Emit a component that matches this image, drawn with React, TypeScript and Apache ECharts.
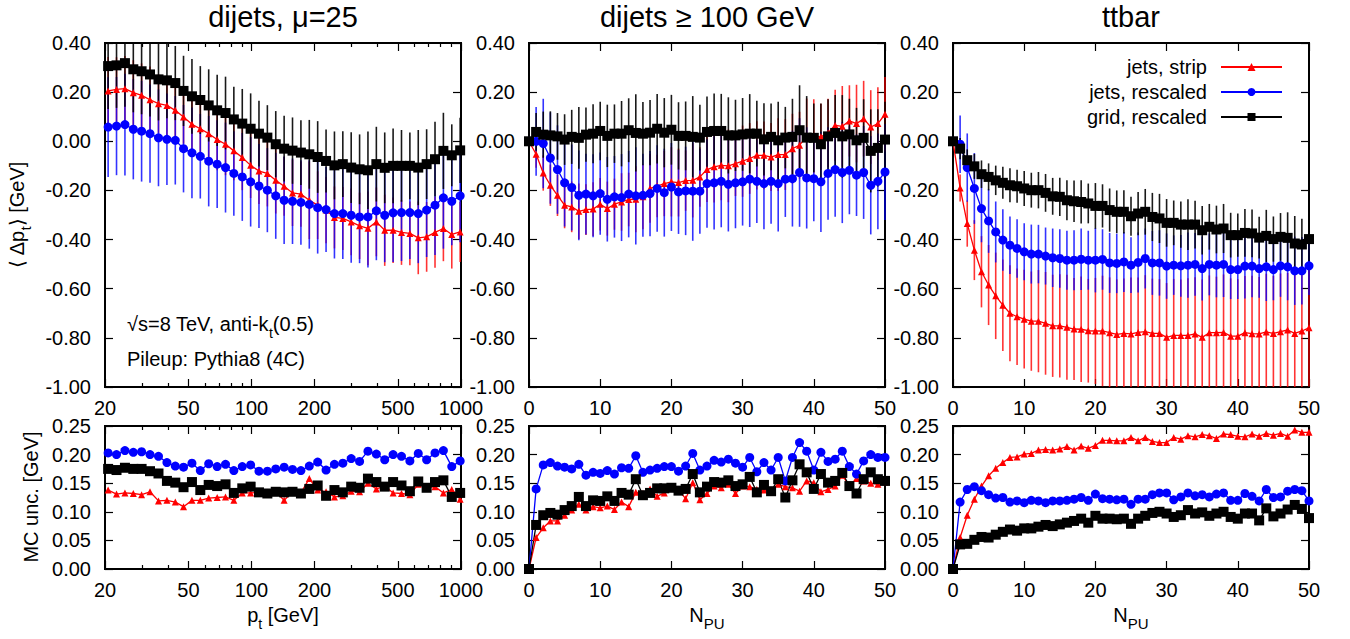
import React, { useEffect, useRef } from 'react';
import * as echarts from 'echarts';

const FONT = '"Liberation Sans", Arial, Helvetica, sans-serif';

const SERIES_NAMES = ['jets, strip', 'jets, rescaled', 'grid, rescaled'];
const COLORS = ['#ff0000', '#0000ff', '#000000'];
const ERR_COLORS = ['rgba(255,0,0,0.8)', 'rgba(0,0,255,0.8)', 'rgba(0,0,0,0.9)'];
const SYMBOLS = ['triangle', 'circle', 'rect'];
const SYMBOL_SIZES = [7, 9, 10];

const PANEL_TITLES = ['dijets, μ=25', 'dijets ≥ 100 GeV', 'ttbar'];

// x values
const PT = [20.7, 22.7, 24.9, 27.3, 29.9, 32.8, 36.0, 39.5, 43.3, 47.4, 52.0, 57.0, 62.5, 68.6, 75.2,
  82.4, 90.4, 99.1, 108.6, 119.1, 130.6, 143.2, 157.0, 172.2, 188.8, 207.0, 227.0, 248.9, 272.9, 299.2,
  328.1, 359.7, 394.5, 432.5, 474.2, 520.0, 570.2, 625.2, 685.5, 751.6, 824.1, 903.6, 990.8];
const NPU = [0, 1, 2, 3, 4, 5, 6, 7, 8, 9, 10, 11, 12, 13, 14, 15, 16, 17, 18, 19, 20, 21, 22, 23, 24, 25,
  26, 27, 28, 29, 30, 31, 32, 33, 34, 35, 36, 37, 38, 39, 40, 41, 42, 43, 44, 45, 46, 47, 48, 49, 50];

const PT_MAJOR_TICKS = [20, 50, 100, 200, 500, 1000];
const PT_MINOR_TICKS = [30, 40, 60, 70, 80, 90, 300, 400, 600, 700, 800, 900];

// Panel 1: dijets mu=25, vs pt
const P1_STRIP = [0.205, 0.211, 0.214, 0.198, 0.187, 0.169, 0.153, 0.146, 0.126, 0.099, 0.069, 0.051, 0.031, 0.007, -0.012,
  -0.039, -0.066, -0.098, -0.121, -0.131, -0.159, -0.183, -0.210, -0.215, -0.240, -0.260, -0.280, -0.310, -0.314, -0.328,
  -0.344, -0.354, -0.328, -0.362, -0.362, -0.371, -0.375, -0.393, -0.389, -0.371, -0.355, -0.379, -0.369];
const P1_JETS = [0.058, 0.062, 0.068, 0.049, 0.041, 0.031, 0.014, 0.008, 0.004, -0.030, -0.047, -0.061, -0.081, -0.093, -0.107,
  -0.131, -0.145, -0.165, -0.182, -0.199, -0.222, -0.240, -0.244, -0.249, -0.257, -0.270, -0.278, -0.294, -0.294, -0.301,
  -0.308, -0.308, -0.283, -0.301, -0.291, -0.290, -0.290, -0.294, -0.280, -0.260, -0.230, -0.244, -0.222];
const P1_GRID = [0.306, 0.309, 0.318, 0.293, 0.285, 0.272, 0.252, 0.248, 0.237, 0.205, 0.183, 0.168, 0.146, 0.126, 0.115,
  0.089, 0.072, 0.051, 0.031, 0.015, -0.012, -0.030, -0.038, -0.046, -0.053, -0.064, -0.080, -0.098, -0.093, -0.107,
  -0.114, -0.118, -0.093, -0.108, -0.100, -0.100, -0.100, -0.107, -0.093, -0.073, -0.039, -0.057, -0.037];
const P1_UNC_STRIP = [0.138, 0.131, 0.133, 0.132, 0.130, 0.135, 0.119, 0.120, 0.117, 0.109, 0.120, 0.120, 0.124, 0.125, 0.126,
  0.120, 0.133, 0.133, 0.134, 0.134, 0.135, 0.120, 0.135, 0.133, 0.158, 0.138, 0.135, 0.126, 0.128, 0.136,
  0.135, 0.150, 0.140, 0.145, 0.133, 0.132, 0.130, 0.148, 0.142, 0.144, 0.133, 0.139, 0.122];
const P1_UNC_JETS = [0.203, 0.200, 0.207, 0.204, 0.205, 0.200, 0.197, 0.186, 0.180, 0.178, 0.185, 0.172, 0.184, 0.179, 0.183,
  0.172, 0.179, 0.182, 0.171, 0.171, 0.175, 0.178, 0.174, 0.172, 0.180, 0.187, 0.173, 0.183, 0.185, 0.193,
  0.188, 0.206, 0.201, 0.191, 0.200, 0.197, 0.189, 0.202, 0.191, 0.203, 0.207, 0.179, 0.189];
const P1_UNC_GRID = [0.175, 0.173, 0.177, 0.175, 0.175, 0.171, 0.167, 0.154, 0.151, 0.143, 0.152, 0.138, 0.147, 0.145, 0.148,
  0.133, 0.141, 0.144, 0.134, 0.132, 0.135, 0.134, 0.135, 0.132, 0.140, 0.146, 0.128, 0.138, 0.134, 0.144,
  0.142, 0.158, 0.152, 0.144, 0.152, 0.146, 0.136, 0.153, 0.142, 0.152, 0.155, 0.126, 0.133];

// Panel 2: dijets >= 100 GeV, vs NPU
const P2_STRIP = [0, -0.053, -0.129, -0.179, -0.220, -0.260, -0.267, -0.285, -0.278, -0.276, -0.256,
  -0.274, -0.256, -0.247, -0.237, -0.236, -0.226, -0.192, -0.182, -0.172, -0.165,
  -0.168, -0.160, -0.159, -0.145, -0.115, -0.104, -0.098, -0.100, -0.091, -0.081,
  -0.070, -0.057, -0.057, -0.064, -0.054, -0.054, -0.030, -0.016, 0.020, 0.020,
  0.018, 0.034, 0.065, 0.061, 0.083, 0.072, 0.092, 0.058, 0.072, 0.110];
const P2_JETS = [0, 0.000, -0.009, -0.068, -0.115, -0.169, -0.188, -0.220, -0.215, -0.222, -0.213,
  -0.236, -0.226, -0.229, -0.215, -0.222, -0.220, -0.213, -0.192, -0.209, -0.186,
  -0.206, -0.202, -0.203, -0.203, -0.172, -0.169, -0.163, -0.175, -0.169, -0.165,
  -0.154, -0.163, -0.172, -0.163, -0.172, -0.154, -0.152, -0.127, -0.149, -0.152,
  -0.165, -0.131, -0.115, -0.127, -0.118, -0.138, -0.127, -0.179, -0.163, -0.125];
const P2_GRID = [0.000, 0.038, 0.027, 0.024, 0.020, 0.007, 0.018, 0.014, 0.027, 0.031, 0.042,
  0.022, 0.031, 0.031, 0.045, 0.034, 0.031, 0.035, 0.051, 0.035, 0.047,
  0.022, 0.022, 0.018, 0.015, 0.038, 0.042, 0.042, 0.024, 0.024, 0.028,
  0.031, 0.031, 0.008, 0.018, 0.004, 0.015, 0.018, 0.045, 0.015, 0.014,
  -0.012, 0.020, 0.034, 0.020, 0.028, 0.004, 0.014, -0.039, -0.027, 0.007];
const P2_UNC_STRIP = [0, 0.055, 0.072, 0.084, 0.084, 0.094, 0.103, 0.113, 0.103, 0.109, 0.107,
  0.110, 0.104, 0.117, 0.109, 0.134, 0.132, 0.140, 0.127, 0.133, 0.141,
  0.138, 0.123, 0.151, 0.121, 0.132, 0.145, 0.142, 0.148, 0.132, 0.145,
  0.144, 0.139, 0.138, 0.138, 0.148, 0.144, 0.142, 0.136, 0.154, 0.151,
  0.135, 0.139, 0.145, 0.164, 0.145, 0.158, 0.154, 0.150, 0.148, 0.152];
const P2_UNC_JETS = [0, 0.140, 0.182, 0.186, 0.180, 0.178, 0.175, 0.183, 0.164, 0.169, 0.167,
  0.172, 0.166, 0.177, 0.176, 0.198, 0.169, 0.173, 0.176, 0.179, 0.179,
  0.171, 0.180, 0.202, 0.173, 0.180, 0.190, 0.187, 0.192, 0.185, 0.178,
  0.195, 0.170, 0.186, 0.173, 0.195, 0.154, 0.195, 0.221, 0.206, 0.173,
  0.204, 0.188, 0.192, 0.206, 0.179, 0.166, 0.189, 0.200, 0.195, 0.195];
const P2_UNC_GRID = [0, 0.077, 0.094, 0.098, 0.095, 0.103, 0.110, 0.126, 0.110, 0.120, 0.119,
  0.127, 0.119, 0.133, 0.130, 0.157, 0.129, 0.133, 0.141, 0.141, 0.142,
  0.137, 0.140, 0.166, 0.134, 0.144, 0.152, 0.151, 0.155, 0.145, 0.148,
  0.161, 0.134, 0.147, 0.136, 0.157, 0.125, 0.155, 0.183, 0.169, 0.140,
  0.166, 0.151, 0.154, 0.168, 0.145, 0.132, 0.157, 0.169, 0.157, 0.154];

// Panel 3: ttbar, vs NPU
const P3_STRIP = [0, -0.190, -0.335, -0.443, -0.531, -0.585, -0.629, -0.667, -0.700, -0.714, -0.724,
  -0.732, -0.732, -0.741, -0.751, -0.751, -0.757, -0.764, -0.765, -0.771, -0.772,
  -0.772, -0.779, -0.786, -0.782, -0.784, -0.778, -0.775, -0.782, -0.782, -0.798,
  -0.790, -0.790, -0.790, -0.784, -0.798, -0.779, -0.779, -0.778, -0.793, -0.793,
  -0.779, -0.783, -0.784, -0.776, -0.782, -0.775, -0.768, -0.782, -0.772, -0.759];
const P3_JETS = [0, -0.012, -0.107, -0.192, -0.274, -0.324, -0.369, -0.402, -0.423, -0.436, -0.450,
  -0.459, -0.459, -0.467, -0.474, -0.477, -0.484, -0.484, -0.480, -0.484, -0.484,
  -0.481, -0.495, -0.497, -0.491, -0.504, -0.493, -0.477, -0.495, -0.495, -0.508,
  -0.504, -0.507, -0.504, -0.501, -0.518, -0.501, -0.504, -0.501, -0.522, -0.522,
  -0.508, -0.508, -0.518, -0.511, -0.522, -0.507, -0.511, -0.527, -0.527, -0.507];
const P3_GRID = [0, -0.030, -0.077, -0.102, -0.134, -0.145, -0.159, -0.169, -0.179, -0.183, -0.192,
  -0.199, -0.199, -0.210, -0.224, -0.226, -0.240, -0.244, -0.247, -0.253, -0.263,
  -0.263, -0.280, -0.287, -0.287, -0.305, -0.294, -0.287, -0.308, -0.314, -0.332,
  -0.332, -0.339, -0.339, -0.339, -0.362, -0.348, -0.359, -0.355, -0.382, -0.382,
  -0.373, -0.375, -0.392, -0.385, -0.398, -0.389, -0.393, -0.416, -0.420, -0.398];
const P3_UNC_STRIP = [0, 0.055, 0.094, 0.122, 0.145, 0.163, 0.176, 0.186, 0.195, 0.196, 0.201,
  0.202, 0.208, 0.209, 0.208, 0.210, 0.214, 0.208, 0.215, 0.211, 0.216,
  0.225, 0.225, 0.224, 0.224, 0.230, 0.224, 0.230, 0.223, 0.221, 0.221,
  0.230, 0.227, 0.233, 0.231, 0.235, 0.233, 0.228, 0.236, 0.235, 0.232,
  0.231, 0.236, 0.232, 0.237, 0.234, 0.237, 0.232, 0.243, 0.239, 0.239];
const P3_UNC_JETS = [0, 0.117, 0.139, 0.144, 0.137, 0.130, 0.124, 0.125, 0.117, 0.119, 0.116,
  0.120, 0.119, 0.116, 0.119, 0.119, 0.120, 0.122, 0.125, 0.120, 0.131,
  0.123, 0.122, 0.121, 0.122, 0.113, 0.122, 0.122, 0.130, 0.133, 0.133,
  0.121, 0.126, 0.133, 0.128, 0.130, 0.126, 0.131, 0.133, 0.120, 0.120,
  0.132, 0.127, 0.119, 0.139, 0.125, 0.126, 0.136, 0.139, 0.137, 0.119];
const P3_UNC_GRID = [0, 0.043, 0.044, 0.051, 0.056, 0.055, 0.060, 0.065, 0.069, 0.067, 0.071,
  0.071, 0.074, 0.077, 0.075, 0.078, 0.081, 0.084, 0.088, 0.081, 0.093,
  0.088, 0.088, 0.087, 0.088, 0.079, 0.088, 0.093, 0.098, 0.100, 0.097,
  0.091, 0.094, 0.103, 0.097, 0.099, 0.093, 0.097, 0.100, 0.091, 0.088,
  0.097, 0.097, 0.085, 0.106, 0.092, 0.097, 0.104, 0.112, 0.105, 0.089];

// layout
const PANEL_LEFT = [105, 529, 953];
const PANEL_WIDTH = 356;
const ROW_TOP = [43, 426];
const ROW_HEIGHT = [344, 143];

const LOG = (v: number) => Math.log10(v);

const RICH = (size: number, sub: number) => ({
  m: { fontSize: size, fontFamily: FONT, fill: '#000', lineHeight: size + 6, verticalAlign: 'top' },
  s: { fontSize: sub, fontFamily: FONT, fill: '#000', lineHeight: sub, verticalAlign: 'bottom' },
});

function buildOption() {
  const panels = [
    { xs: PT.map(LOG), top: [P1_STRIP, P1_JETS, P1_GRID], unc: [P1_UNC_STRIP, P1_UNC_JETS, P1_UNC_GRID], log: true },
    { xs: NPU, top: [P2_STRIP, P2_JETS, P2_GRID], unc: [P2_UNC_STRIP, P2_UNC_JETS, P2_UNC_GRID], log: false },
    { xs: NPU, top: [P3_STRIP, P3_JETS, P3_GRID], unc: [P3_UNC_STRIP, P3_UNC_JETS, P3_UNC_GRID], log: false },
  ];

  const grid: any[] = [];
  const xAxis: any[] = [];
  const yAxis: any[] = [];
  const series: any[] = [];
  const mainX: number[] = [];
  const mainY: number[] = [];

  const tickStyle = { color: '#000', width: 1.2 };
  const labelBase = { fontSize: 20, fontFamily: FONT, color: '#000' };

  for (let row = 0; row < 2; row++) {
    for (let p = 0; p < 3; p++) {
      const gi = row * 3 + p;
      grid.push({
        left: PANEL_LEFT[p], width: PANEL_WIDTH, top: ROW_TOP[row], height: ROW_HEIGHT[row],
        show: true, borderWidth: 2, borderColor: '#000', backgroundColor: 'rgba(0,0,0,0)',
        containLabel: false, outerBoundsMode: 'none',
      });
      const isLog = panels[p].log;
      const range = isLog
        ? { min: LOG(PT_MAJOR_TICKS[0]), max: LOG(PT_MAJOR_TICKS[PT_MAJOR_TICKS.length - 1]) }
        : { min: 0, max: 50, interval: 10 };
      const baseX: any = {
        type: 'value', gridIndex: gi, ...range,
        axisLine: { show: false, onZero: false }, splitLine: { show: false },
      };
      mainX[gi] = xAxis.length;
      xAxis.push({
        ...baseX, position: 'bottom',
        axisTick: { show: true, inside: true, length: 8, lineStyle: tickStyle,
          ...(isLog ? { customValues: PT_MAJOR_TICKS.map(LOG) } : {}) },
        axisLabel: {
          show: true, margin: 11, ...labelBase,
          ...(isLog ? { customValues: PT_MAJOR_TICKS.map(LOG), formatter: (v: number) => String(Math.round(Math.pow(10, v))) }
            : { formatter: (v: number) => String(Math.round(v)) }),
        },
      });
      xAxis.push({
        ...baseX, position: 'top',
        axisTick: { show: true, inside: true, length: 8, lineStyle: tickStyle,
          ...(isLog ? { customValues: PT_MAJOR_TICKS.map(LOG) } : {}) },
        axisLabel: { show: false },
      });
      if (isLog) {
        for (const pos of ['bottom', 'top']) {
          xAxis.push({
            ...baseX, position: pos,
            axisTick: { show: true, inside: true, length: 4, lineStyle: tickStyle, customValues: PT_MINOR_TICKS.map(LOG) },
            axisLabel: { show: false },
          });
        }
      }
      const yr = row === 0 ? { min: -1, max: 0.4, interval: 0.2 } : { min: 0, max: 0.25, interval: 0.05 };
      const baseY: any = {
        type: 'value', gridIndex: gi, ...yr,
        axisLine: { show: false, onZero: false }, splitLine: { show: false },
        axisTick: { show: true, inside: true, length: 8, lineStyle: tickStyle },
      };
      mainY[gi] = yAxis.length;
      yAxis.push({
        ...baseY, position: 'left',
        axisLabel: { show: true, margin: 14, ...labelBase,
          formatter: (v: number) => (Math.abs(v) < 1e-9 ? 0 : v).toFixed(2) },
      });
      yAxis.push({ ...baseY, position: 'right', axisLabel: { show: false } });
    }
  }

  panels.forEach((pn, p) => {
    for (let s = 0; s < 3; s++) {
      const color = ERR_COLORS[s];
      series.push({
        type: 'custom', name: 'err-' + SERIES_NAMES[s], xAxisIndex: mainX[p], yAxisIndex: mainY[p],
        silent: true, clip: false,
        data: pn.xs.map((x, i) => [x, pn.top[s][i], pn.unc[s][i]]),
        encode: { x: 0, y: 1 },
        renderItem: (params: any, api: any) => {
          const x = api.value(0), y = api.value(1), e = api.value(2);
          if (!(e > 0)) return null;
          const a = api.coord([x, y + e]);
          const b = api.coord([x, y - e]);
          const cs = params.coordSys;
          const t = Math.max(a[1], cs.y);
          const bt = Math.min(b[1], cs.y + cs.height);
          if (bt <= t) return null;
          return { type: 'line', shape: { x1: a[0], y1: t, x2: a[0], y2: bt }, style: { stroke: color, lineWidth: 1.6 } };
        },
      });
      series.push({
        type: 'line', name: SERIES_NAMES[s], xAxisIndex: mainX[p], yAxisIndex: mainY[p],
        data: pn.xs.map((x, i) => [x, pn.top[s][i]]),
        symbol: SYMBOLS[s], symbolSize: SYMBOL_SIZES[s], showSymbol: true, showAllSymbol: true, clip: false,
        itemStyle: { color: COLORS[s] }, lineStyle: { color: COLORS[s], width: 1.3 },
        emphasis: { disabled: true },
      });
    }
    for (let s = 0; s < 3; s++) {
      const gi = p + 3;
      series.push({
        type: 'line', name: SERIES_NAMES[s], xAxisIndex: mainX[gi], yAxisIndex: mainY[gi],
        data: pn.xs.map((x, i) => [x, pn.unc[s][i]]),
        symbol: SYMBOLS[s], symbolSize: SYMBOL_SIZES[s], showSymbol: true, showAllSymbol: true, clip: false,
        itemStyle: { color: COLORS[s] }, lineStyle: { color: COLORS[s], width: 1.3 },
        emphasis: { disabled: true },
      });
    }
  });

  const centers = PANEL_LEFT.map((l) => l + PANEL_WIDTH / 2);
  const graphic: any[] = [];
  PANEL_TITLES.forEach((t, p) => {
    graphic.push({
      type: 'text', x: centers[p], y: 17,
      style: { text: t, fontSize: 29, fontFamily: FONT, fill: '#000', align: 'center', verticalAlign: 'middle' },
    });
  });
  graphic.push({
    type: 'text', x: 127, y: 327,
    style: { text: '{m|√s=8 TeV, anti-k}{s|t}{m|(0.5)}', rich: RICH(20, 14), align: 'left', verticalAlign: 'middle' },
  });
  graphic.push({
    type: 'text', x: 127, y: 359,
    style: { text: 'Pileup: Pythia8 (4C)', fontSize: 20, fontFamily: FONT, fill: '#000', align: 'left', verticalAlign: 'middle' },
  });
  graphic.push({
    type: 'text', x: centers[0], y: 618,
    style: { text: '{m|p}{s|t}{m| [GeV]}', rich: RICH(20, 14), align: 'center', verticalAlign: 'middle' },
  });
  for (const p of [1, 2]) {
    graphic.push({
      type: 'text', x: centers[p], y: 618,
      style: { text: '{m|N}{s|PU}', rich: RICH(20, 15), align: 'center', verticalAlign: 'middle' },
    });
  }
  graphic.push({
    type: 'text', x: 20, y: 215, rotation: Math.PI / 2,
    style: { text: '{m|⟨ Δp}{s|t}{m|⟩ [GeV]}', rich: RICH(20, 14), align: 'center', verticalAlign: 'middle' },
  });
  graphic.push({
    type: 'text', x: 31, y: 497, rotation: Math.PI / 2,
    style: { text: 'MC unc. [GeV]', fontSize: 20, fontFamily: FONT, fill: '#000', align: 'center', verticalAlign: 'middle' },
  });

  return {
    animation: false,
    backgroundColor: '#fff',
    textStyle: { fontFamily: FONT },
    grid, xAxis, yAxis, series, graphic,
    legend: {
      data: SERIES_NAMES, orient: 'vertical', align: 'right', right: 62, top: 52,
      itemWidth: 61, itemHeight: 10, itemGap: 5, selectedMode: false,
      textStyle: { fontSize: 20, fontFamily: FONT, color: '#000', padding: [0, 9, 0, 0] },
    },
  };
}

export default function App() {
  const ref = useRef<HTMLDivElement>(null);
  useEffect(() => {
    const chart = echarts.init(ref.current!, undefined, { renderer: 'svg' });
    chart.setOption(buildOption() as any);
    return () => chart.dispose();
  }, []);
  return <div ref={ref} style={{ position: 'absolute', left: 0, top: 0, width: 1350, height: 639 }} />;
}
